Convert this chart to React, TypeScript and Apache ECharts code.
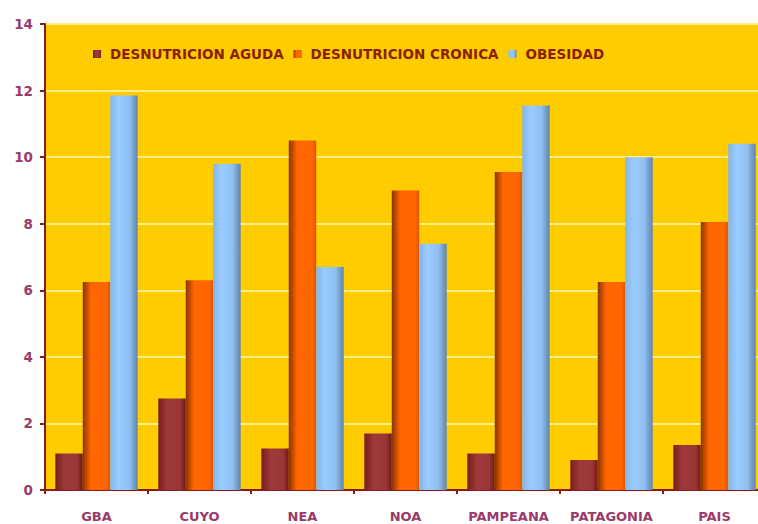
import React, { useEffect, useRef } from "react";
import * as echarts from "echarts";

const categories = ["GBA", "CUYO", "NEA", "NOA", "PAMPEANA", "PATAGONIA", "PAIS"];
const aguda = [1.1, 2.75, 1.25, 1.7, 1.1, 0.9, 1.35];
const cronica = [6.25, 6.3, 10.5, 9.0, 9.55, 6.25, 8.05];
const obesidad = [11.85, 9.8, 6.7, 7.4, 11.55, 10.0, 10.4];
const seriesNames = ["DESNUTRICION AGUDA", "DESNUTRICION CRONICA", "OBESIDAD"];

const grad = (stops: [number, string][]) =>
  new echarts.graphic.LinearGradient(0, 0, 1, 0, stops.map(([offset, color]) => ({ offset, color })));

export default function App() {
  const ref = useRef<HTMLDivElement>(null);
  useEffect(() => {
    if (!ref.current) return;
    const chart = echarts.init(ref.current, null, { renderer: "svg" });
    const labelColor = "#9A3A68";
    const font = "DejaVu Sans";
    chart.setOption({
      animation: false,
      backgroundColor: "#ffffff",
      legend: {
        left: 88,
        top: 42,
        itemWidth: 8,
        itemHeight: 8,
        itemGap: 10,
        icon: "rect",
        textStyle: { color: "#8B2000", fontSize: 13.5, fontWeight: "bold", fontFamily: font, padding: [0, 0, 0, 4] },
        data: seriesNames,
      },
      grid: {
        left: 45,
        top: 24,
        bottom: 34,
        right: 14,
        show: true,
        backgroundColor: "#FFCC00",
        borderColor: "#A63C3C",
        borderWidth: 2,
      },
      xAxis: {
        type: "category",
        data: categories,
        axisLine: { lineStyle: { color: "#8B1A1A", width: 2 } },
        axisTick: { show: true, interval: 0, length: 4, lineStyle: { color: "#8B1A1A", width: 2 } },
        axisLabel: { interval: 0, color: labelColor, fontSize: 13, fontWeight: "bold", fontFamily: font, margin: 20 },
      },
      yAxis: {
        type: "value",
        min: 0,
        max: 14,
        interval: 2,
        axisLine: { show: true, lineStyle: { color: "#8B1A1A", width: 2 } },
        axisTick: { show: true, length: 5, lineStyle: { color: "#8B1A1A", width: 2 } },
        axisLabel: { color: labelColor, fontSize: 13.5, fontWeight: "bold", fontFamily: font, margin: 12 },
        splitLine: { lineStyle: { color: "#FFEE88", width: 2 } },
      },
      series: [
        {
          name: seriesNames[0],
          type: "bar",
          data: aguda,
          barGap: "0%",
          barCategoryGap: "20%",
          itemStyle: {
            color: grad([
              [0, "#7A1C1C"],
              [0.35, "#9E3A3A"],
              [0.8, "#9A3636"],
              [1, "#6E1616"],
            ]),
          },
        },
        {
          name: seriesNames[1],
          type: "bar",
          data: cronica,
          itemStyle: {
            color: grad([
              [0, "#8A3300"],
              [0.3, "#FF6600"],
              [0.85, "#FF6600"],
              [1, "#D95500"],
            ]),
          },
        },
        {
          name: seriesNames[2],
          type: "bar",
          data: obesidad,
          itemStyle: {
            color: grad([
              [0, "#86B4E6"],
              [0.3, "#99CCFF"],
              [0.7, "#90C0F0"],
              [1, "#5E84AE"],
            ]),
          },
        },
      ],
    });
    return () => chart.dispose();
  }, []);
  return (
    <div
      ref={ref}
      style={{ position: "fixed", left: 0, top: 0, width: 780, height: 524 }}
    />
  );
}
